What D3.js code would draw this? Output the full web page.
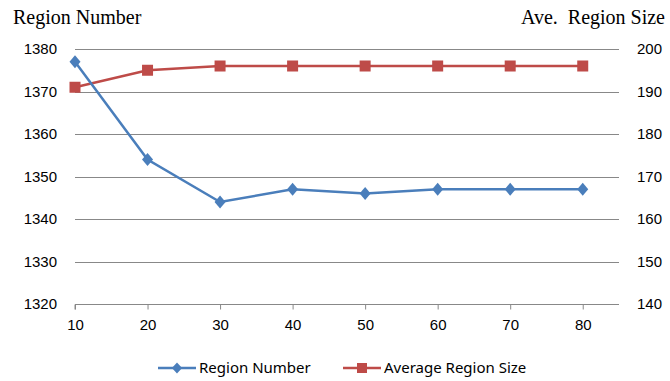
<!DOCTYPE html>
<html>
<head>
  <style>
    body { margin: 0; background: #fff; }
    svg { font-family: 'Noto Sans', 'Liberation Sans', sans-serif; }
    .tick text { font-size: 15px; fill: #000; }
    .title { font-family: 'Liberation Serif', 'DejaVu Serif', serif; font-size: 20px; fill: #000; }
  </style>
</head>
<body>
  <script src="https://cdn.jsdelivr.net/npm/d3@7"></script>
  <script>
    // chart values
    const steps = [10, 20, 30, 40, 50, 60, 70, 80];
    const regionNumber = [1377, 1354, 1344, 1347, 1346, 1347, 1347, 1347];
    const avgRegionSize = [191, 195, 196, 196, 196, 196, 196, 196];
    const leftTicks = [1320, 1330, 1340, 1350, 1360, 1370, 1380];
    const rightTicks = [140, 150, 160, 170, 180, 190, 200];

    const width = 670, height = 381;
    const blue = "#4a7ebb", red = "#be4b48";

    const svg = d3.select("body").append("svg")
      .attr("width", width)
      .attr("height", height);

    const x = d3.scaleLinear().domain([10, 85]).range([75, 619]);
    const yL = d3.scaleLinear().domain([1320, 1380]).range([304, 49]);
    const yR = d3.scaleLinear().domain([140, 200]).range([304, 49]);

    // gridlines
    svg.append("g")
      .selectAll("line")
      .data(leftTicks.slice(1))
      .join("line")
      .attr("x1", x(10)).attr("x2", x(85))
      .attr("y1", d => Math.round(yL(d)) + 0.5)
      .attr("y2", d => Math.round(yL(d)) + 0.5)
      .attr("stroke", "#888").attr("stroke-width", 1);

    // left axis labels
    const left = svg.append("g")
      .attr("transform", "translate(57,0)")
      .call(d3.axisLeft(yL).tickValues(leftTicks).tickFormat(d3.format("d")).tickSize(0).tickPadding(0));
    left.select(".domain").remove();

    // right axis labels
    const right = svg.append("g")
      .attr("transform", "translate(637,0)")
      .call(d3.axisRight(yR).tickValues(rightTicks).tickFormat(d3.format("d")).tickSize(0).tickPadding(0));
    right.select(".domain").remove();

    // bottom axis
    const bottom = svg.append("g")
      .attr("transform", `translate(0,${Math.round(yL(1320)) + 0.5})`)
      .call(d3.axisBottom(x).tickValues(steps).tickSize(5).tickPadding(10).tickSizeOuter(0));
    bottom.select(".domain").attr("stroke", "#888").attr("d", `M${x(10)},0V5M${x(10)},0H${x(85)}`);
    bottom.selectAll(".tick line").attr("stroke", "#888");

    // lines
    const lineL = d3.line().x((d, i) => x(steps[i])).y(d => yL(d));
    const lineR = d3.line().x((d, i) => x(steps[i])).y(d => yR(d));

    svg.append("path").datum(avgRegionSize)
      .attr("d", lineR).attr("fill", "none")
      .attr("stroke", red).attr("stroke-width", 2.5);

    svg.append("g").selectAll("rect")
      .data(avgRegionSize)
      .join("rect")
      .attr("x", (d, i) => x(steps[i]) - 5.5)
      .attr("y", d => yR(d) - 5.5)
      .attr("width", 11).attr("height", 11)
      .attr("fill", red);

    svg.append("path").datum(regionNumber)
      .attr("d", lineL).attr("fill", "none")
      .attr("stroke", blue).attr("stroke-width", 2.5);

    const diamond = d3.symbol().type(d3.symbolDiamond).size(50);
    svg.append("g").selectAll("path")
      .data(regionNumber)
      .join("path")
      .attr("d", diamond)
      .attr("transform", (d, i) => `translate(${x(steps[i])},${yL(d)}) scale(1.45,1)`)
      .attr("fill", blue);

    // titles
    svg.append("text").attr("class", "title")
      .attr("x", 13).attr("y", 24)
      .text("Region Number");
    svg.append("text").attr("class", "title")
      .attr("x", 665).attr("y", 24).attr("text-anchor", "end")
      .attr("xml:space", "preserve")
      .text("Ave.  Region Size");

    // legend
    const legend = [
      { name: "Region Number", color: blue, x0: 158, shape: "diamond" },
      { name: "Average Region Size", color: red, x0: 343, shape: "square" }
    ];
    const lg = svg.append("g").selectAll("g")
      .data(legend)
      .join("g")
      .attr("transform", d => `translate(${d.x0},368)`);
    lg.append("line")
      .attr("x1", 0).attr("x2", 38)
      .attr("stroke", d => d.color).attr("stroke-width", 2.5);
    lg.filter(d => d.shape === "diamond").append("path")
      .attr("d", d3.symbol().type(d3.symbolDiamond).size(35))
      .attr("transform", "translate(19,0) scale(1.6,1)")
      .attr("fill", blue);
    lg.filter(d => d.shape === "square").append("rect")
      .attr("x", 14).attr("y", -5).attr("width", 10).attr("height", 10)
      .attr("fill", red);
    lg.append("text")
      .attr("x", 41).attr("y", 0).attr("dy", "0.35em")
      .attr("font-size", 15)
      .text(d => d.name);
  </script>
</body>
</html>
